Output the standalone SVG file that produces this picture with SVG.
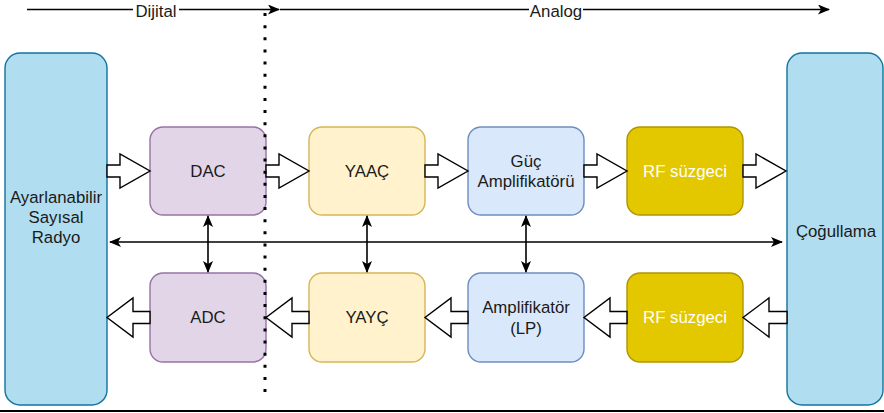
<svg xmlns="http://www.w3.org/2000/svg" width="884" height="413" viewBox="0 0 884 413">
<style>
text{font-family:"Liberation Sans",Arial,sans-serif;font-size:16.8px;fill:#1a1a1a;text-anchor:middle}
.w{fill:#ffffff}
.big{fill:#b1ddf0;stroke:#10739e;stroke-width:1.4}
.pur{fill:#e1d5e7;stroke:#9673a6;stroke-width:1.4}
.yel{fill:#fff2cc;stroke:#d6b656;stroke-width:1.4}
.blu{fill:#dae8fc;stroke:#6c8ebf;stroke-width:1.4}
.rf{fill:#e3c800;stroke:#b09500;stroke-width:1.4}
.blk{fill:#ffffff;stroke:#000000;stroke-width:1.4;stroke-linejoin:miter}
.ln{fill:none;stroke:#000000;stroke-width:1.6}
</style>
<defs>
<marker id="ah" viewBox="0 0 12 10" refX="11" refY="5" markerWidth="12" markerHeight="10" markerUnits="userSpaceOnUse" orient="auto-start-reverse">
<path d="M0,0 L12,5 L0,10 L3,5 Z" fill="#000"/>
</marker>
</defs>

<g id="header">
<line class="ln" x1="27" y1="9.5" x2="279" y2="9.5" marker-end="url(#ah)"/>
<line class="ln" x1="280" y1="9.5" x2="829" y2="9.5" marker-end="url(#ah)"/>
<rect x="133" y="2" width="46" height="16" fill="#fff"/>
<text x="156" y="17">Dijital</text>
<rect x="529" y="2" width="54" height="16" fill="#fff"/>
<text x="556" y="17">Analog</text>
<line x1="0" y1="411" x2="884" y2="411" stroke="#000" stroke-width="2"/>
</g>

<g id="sdr">
<rect class="big" x="5" y="53" width="102" height="352" rx="15"/>
<text x="56" y="203">Ayarlanabilir</text>
<text x="56" y="223">Sayısal</text>
<text x="56" y="243">Radyo</text>
</g>
<g id="cogullama">
<rect class="big" x="787" y="53" width="96" height="352" rx="15"/>
<text x="836" y="237">Çoğullama</text>
</g>

<g id="dac"><rect class="pur" x="150" y="127" width="116" height="88" rx="13"/><text x="208" y="177">DAC</text></g>
<g id="yaac"><rect class="yel" x="309" y="127" width="116" height="88" rx="13"/><text x="367" y="177">YAAÇ</text></g>
<g id="guc"><rect class="blu" x="468" y="127" width="116" height="88" rx="13"/><text x="526" y="167">Güç</text><text x="526" y="187">Amplifikatörü</text></g>
<g id="rf1"><rect class="rf" x="627" y="127" width="116" height="88" rx="13"/><text class="w" x="685" y="177">RF süzgeci</text></g>

<g id="adc"><rect class="pur" x="150" y="273" width="116" height="89" rx="13"/><text x="208" y="323">ADC</text></g>
<g id="yayc"><rect class="yel" x="309" y="273" width="116" height="89" rx="13"/><text x="367" y="323">YAYÇ</text></g>
<g id="amplp"><rect class="blu" x="468" y="273" width="116" height="89" rx="13"/><text x="526" y="313">Amplifikatör</text><text x="526" y="334">(LP)</text></g>
<g id="rf2"><rect class="rf" x="627" y="273" width="116" height="89" rx="13"/><text class="w" x="685" y="323">RF süzgeci</text></g>

<g id="connectors">
<path class="blk" d="M107,165 L120,165 L120,154 L150,171 L120,188 L120,177 L107,177 Z"/>
<path class="blk" d="M266,165 L279,165 L279,154 L309,171 L279,188 L279,177 L266,177 Z"/>
<path class="blk" d="M425,165 L438,165 L438,154 L468,171 L438,188 L438,177 L425,177 Z"/>
<path class="blk" d="M584,165 L597,165 L597,154 L627,171 L597,188 L597,177 L584,177 Z"/>
<path class="blk" d="M743,165 L756,165 L756,154 L786,171 L756,188 L756,177 L743,177 Z"/>

<path class="blk" d="M150,311.5 L133,311.5 L133,298 L107,317.5 L133,337 L133,323.5 L150,323.5 Z"/>
<path class="blk" d="M309,311.5 L292,311.5 L292,298 L266,317.5 L292,337 L292,323.5 L309,323.5 Z"/>
<path class="blk" d="M468,311.5 L451,311.5 L451,298 L425,317.5 L451,337 L451,323.5 L468,323.5 Z"/>
<path class="blk" d="M627,311.5 L610,311.5 L610,298 L584,317.5 L610,337 L610,323.5 L627,323.5 Z"/>
<path class="blk" d="M787,311.5 L769,311.5 L769,298 L743,317.5 L769,337 L769,323.5 L787,323.5 Z"/>

<line class="ln" x1="110" y1="242" x2="782" y2="242" marker-start="url(#ah)" marker-end="url(#ah)"/>
<line class="ln" x1="208" y1="216" x2="208" y2="272" marker-start="url(#ah)" marker-end="url(#ah)"/>
<line class="ln" x1="367" y1="216" x2="367" y2="272" marker-start="url(#ah)" marker-end="url(#ah)"/>
<line class="ln" x1="526" y1="216" x2="526" y2="272" marker-start="url(#ah)" marker-end="url(#ah)"/>
<line x1="265" y1="13" x2="265" y2="392" stroke="#000" stroke-width="3" stroke-dasharray="3 9.13"/>
</g>
</svg>
